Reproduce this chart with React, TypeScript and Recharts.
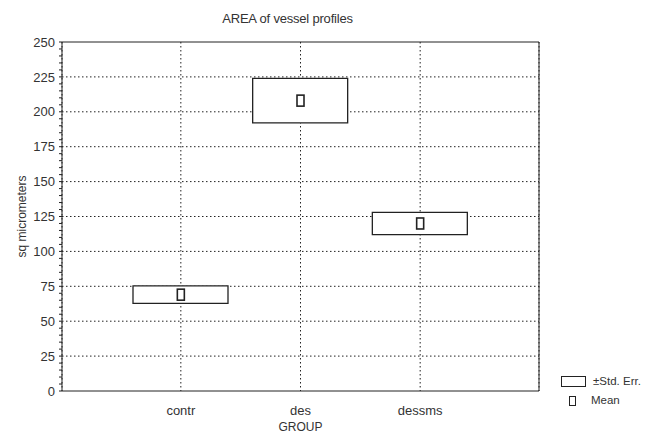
import {
  ComposedChart,
  Bar,
  Scatter,
  XAxis,
  YAxis,
  CartesianGrid,
} from 'recharts';

const groups = ['contr', 'des', 'dessms'];
const means = [69, 208, 120];
const stdErrs = [6.3, 16, 8];

const yTicks = [0, 25, 50, 75, 100, 125, 150, 175, 200, 225, 250];
const minorTicks = Array.from({ length: 51 }, (_, i) => i * 5);
const gridValues = [25, 50, 75, 100, 125, 150, 175, 200, 225];

const data = groups.map((g, i) => ({
  group: g,
  mean: means[i],
  se: [means[i] - stdErrs[i], means[i] + stdErrs[i]],
}));

const INK = '#222';
const TEXT = '#333';
const FONT = '"Liberation Sans", Arial, sans-serif';

function MeanMarker(props: any) {
  const { cx, cy } = props;
  if (cx == null || cy == null) return null;
  return (
    <rect x={cx - 3.5} y={cy - 5.5} width={7} height={11} fill="#fff" stroke={INK} strokeWidth={1.6} />
  );
}

function LegendBox() {
  return (
    <div
      style={{
        position: 'absolute',
        left: 561,
        top: 375,
        fontFamily: FONT,
        fontSize: 11.5,
        color: TEXT,
        lineHeight: '13px',
      }}
    >
      <div style={{ display: 'flex', alignItems: 'center' }}>
        <span style={{ display: 'inline-block', width: 23, height: 9, border: `1.3px solid ${INK}`, marginRight: 7 }} />
        ±Std. Err.
      </div>
      <div style={{ display: 'flex', alignItems: 'center', marginTop: 6 }}>
        <span style={{ display: 'inline-block', width: 5, height: 8, border: `1.5px solid ${INK}`, marginLeft: 8, marginRight: 15 }} />
        Mean
      </div>
    </div>
  );
}

export default function App() {
  return (
    <div style={{ position: 'absolute', left: 0, top: 0, width: 655, height: 436, background: '#fff' }}>
      <div
        style={{
          position: 'absolute',
          top: 11,
          left: 0,
          width: 575,
          textAlign: 'center',
          fontFamily: FONT,
          fontSize: 13,
          letterSpacing: -0.2,
          color: TEXT,
        }}
      >
        AREA of vessel profiles
      </div>
      <ComposedChart
        width={655}
        height={436}
        data={data}
        margin={{ top: 42, right: 116, bottom: 15, left: 10 }}
        style={{ fontFamily: FONT }}
      >
        <CartesianGrid
          stroke={INK}
          strokeDasharray="1.5 2.5"
          horizontalValues={gridValues}
        />
        <XAxis
          dataKey="group"
          padding={{ left: 59, right: 59 }}
          height={30}
          stroke={INK}
          tickLine={false}
          tick={{ fill: TEXT, fontSize: 13 }}
          tickMargin={9}
          label={{ value: 'GROUP', position: 'insideBottom', offset: -10, fill: TEXT, fontSize: 12 }}
        />
        <XAxis
          xAxisId="top"
          dataKey="group"
          orientation="top"
          padding={{ left: 59, right: 59 }}
          height={1}
          stroke={INK}
          tick={false}
          tickSize={4}
          mirror
        />
        <YAxis
          domain={[0, 250]}
          ticks={minorTicks}
          interval={0}
          width={52}
          stroke={INK}
          tickSize={3}
          tickMargin={4}
          tick={{ fill: TEXT, fontSize: 13 }}
          tickFormatter={(v: number) => (yTicks.includes(v) ? String(v) : '')}
          label={{
            value: 'sq micrometers',
            angle: -90,
            position: 'insideLeft',
            offset: 12,
            fill: TEXT,
            fontSize: 12,
            style: { textAnchor: 'middle' },
          }}
        />
        <YAxis
          yAxisId="right"
          orientation="right"
          domain={[0, 250]}
          ticks={minorTicks}
          interval={0}
          width={1}
          stroke={INK}
          tick={false}
          tickSize={2}
          mirror
        />
        <Bar
          dataKey="se"
          barSize={95}
          fill="#fff"
          stroke={INK}
          strokeWidth={1.3}
          isAnimationActive={false}
        />
        <Scatter dataKey="mean" shape={MeanMarker} isAnimationActive={false} />
      </ComposedChart>
      <LegendBox />
    </div>
  );
}
